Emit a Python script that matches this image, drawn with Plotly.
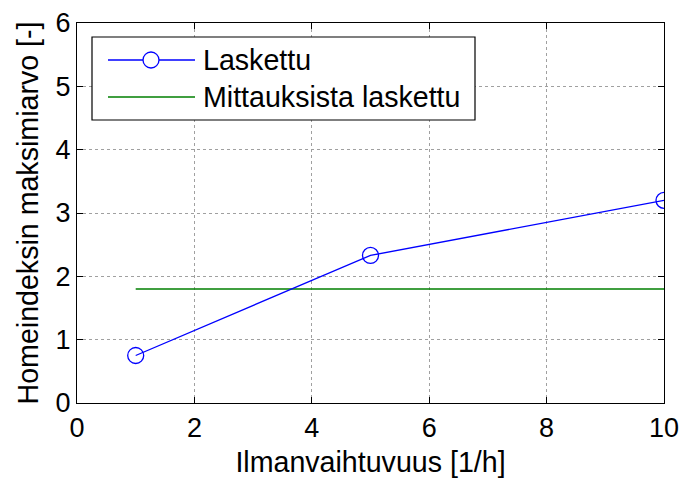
import plotly.graph_objects as go

# Computed maximum mould index vs. air change rate
ach = [1, 5, 10]
mould_calc = [0.75, 2.33, 3.2]

# Value derived from measurements
meas_x = [1, 10]
mould_meas = [1.8, 1.8]

x_ticks = [0, 2, 4, 6, 8, 10]
y_ticks = [0, 1, 2, 3, 4, 5, 6]

labels = ["Laskettu", "Mittauksista laskettu"]

BLUE = "#0000ff"
GREEN = "#007f00"
FONT = "Liberation Sans, Arial, sans-serif"
FS_TICK = 27
FS_TEXT = 28.6

fig = go.Figure()
fig.add_trace(go.Scatter(
    x=meas_x, y=mould_meas, mode="lines",
    line=dict(color=GREEN, width=1.3), showlegend=False,
))
fig.add_trace(go.Scatter(
    x=ach, y=mould_calc, mode="lines+markers",
    line=dict(color=BLUE, width=1.3),
    marker=dict(symbol="circle-open", size=16, color=BLUE, line=dict(width=1.3)),
    showlegend=False,
))

axis_common = dict(
    showline=True, linecolor="black", linewidth=1.2, mirror="ticks",
    ticks="inside", ticklen=6, tickcolor="black", tickwidth=1.2,
    showgrid=True, gridcolor="#a0a0a0", griddash="dot", gridwidth=1,
    zeroline=False, automargin=False,
    tickfont=dict(family=FONT, size=FS_TICK, color="black"),
)

fig.update_layout(
    width=681, height=479,
    margin=dict(l=77, r=17, t=23, b=76),
    paper_bgcolor="white", plot_bgcolor="white",
    font=dict(family=FONT, color="black"),
    xaxis=dict(range=[0, 10], tickvals=x_ticks,
               title=dict(text="Ilmanvaihtuvuus [1/h]", font=dict(size=FS_TEXT), standoff=10),
               **axis_common),
    yaxis=dict(range=[0, 6], tickvals=y_ticks,
               title=dict(text="Homeindeksin maksimiarvo [-]", font=dict(size=FS_TEXT), standoff=8),
               **axis_common),
)

# Legend box drawn in pixel offsets from the top-left of the plot area
plot_w = 681 - 77 - 17
plot_h = 479 - 23 - 76

def px(x):
    return (x - 77) / plot_w

def py(y):
    return 1 - (y - 23) / plot_h

fig.add_shape(type="rect", xref="paper", yref="paper",
              x0=px(92), x1=px(475), y0=py(37), y1=py(120),
              line=dict(color="black", width=1.2), fillcolor="white", layer="above")

rows = [(60, BLUE, True), (97, GREEN, False)]
for (yy, col, mk), lab in zip(rows, labels):
    fig.add_shape(type="line", xref="paper", yref="paper",
                  x0=px(108), x1=px(195), y0=py(yy), y1=py(yy),
                  line=dict(color=col, width=1.3), layer="above")
    if mk:
        fig.add_shape(type="circle", xref="paper", yref="paper",
                      xsizemode="pixel", ysizemode="pixel",
                      xanchor=px(151), yanchor=py(yy),
                      x0=-8, x1=8, y0=-8, y1=8,
                      line=dict(color=col, width=1.3), fillcolor="white", layer="above")
    fig.add_annotation(xref="paper", yref="paper", x=px(201), y=py(yy),
                       text=lab, showarrow=False, xanchor="left", yanchor="middle",
                       font=dict(family=FONT, size=FS_TEXT, color="black"))

fig.write_html("out.html")
